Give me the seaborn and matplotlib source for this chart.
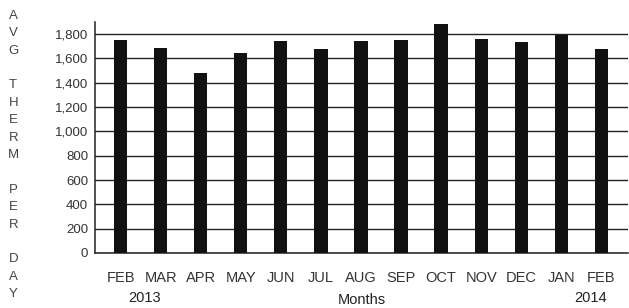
import pandas as pd
import matplotlib.pyplot as plt
import seaborn as sns
import numpy as np

# --- data ---
months = ["FEB", "MAR", "APR", "MAY", "JUN", "JUL", "AUG",
          "SEP", "OCT", "NOV", "DEC", "JAN", "FEB"]
therms = [1750, 1684, 1483, 1648, 1747, 1676, 1747,
          1750, 1882, 1758, 1734, 1791, 1676]
yticks = [0, 200, 400, 600, 800, 1000, 1200, 1400, 1600, 1800]
ylabel_words = ["AVG", "THERM", "PER", "DAY"]

sns.set_style("white")
plt.rcParams['font.family'] = ['Liberation Sans', 'DejaVu Sans']

data = pd.DataFrame({'pos': np.arange(len(months)), 'therms': therms})

fig = plt.figure(figsize=(6.29, 3.08), dpi=100)
ax = fig.add_axes([0.151, 0.1786, 0.847, 0.75])

sns.barplot(x='pos', y='therms', data=data, color='#111111', width=0.33,
            saturation=1, edgecolor='#111111', linewidth=0, ax=ax, zorder=3)

ax.set_ylim(0, 1900)
ax.set_xlim(-0.64, 12.66)
ax.set_yticks(yticks)
ax.set_yticklabels(["{:,}".format(v) for v in yticks])
ax.set_xticks(np.arange(len(months)))
ax.set_xticklabels(months)
ax.yaxis.grid(True, color='#222222', lw=1.0, zorder=0)
ax.set_axisbelow(True)
ax.tick_params(axis='y', length=0, pad=5, labelsize=9.5, colors='#333333')
ax.tick_params(axis='x', length=0, pad=13, labelsize=10.5, colors='#333333')

for side in ['top', 'right']:
    ax.spines[side].set_visible(False)
for side in ['left', 'bottom']:
    ax.spines[side].set_color('#222222')
    ax.spines[side].set_linewidth(1.1)

ax.set_xlabel('Months', fontsize=10.5, color='#222222', labelpad=6)
ax.set_ylabel('')

# year labels under the first and last month
ax.text(0.6, -0.195, "2013", transform=ax.get_xaxis_transform(),
        ha='center', va='center', fontsize=10.5, color='#222222')
ax.text(11.72, -0.195, "2014", transform=ax.get_xaxis_transform(),
        ha='center', va='center', fontsize=10.5, color='#222222')

# stacked vertical y label
stacked = "\n\n".join("\n".join(w) for w in ylabel_words)
fig.text(0.021, 0.497, stacked, ha='center', va='center', fontsize=9.5,
         color='#444444', linespacing=1.6)

plt.savefig('out.png', dpi=100)
plt.close(fig)
